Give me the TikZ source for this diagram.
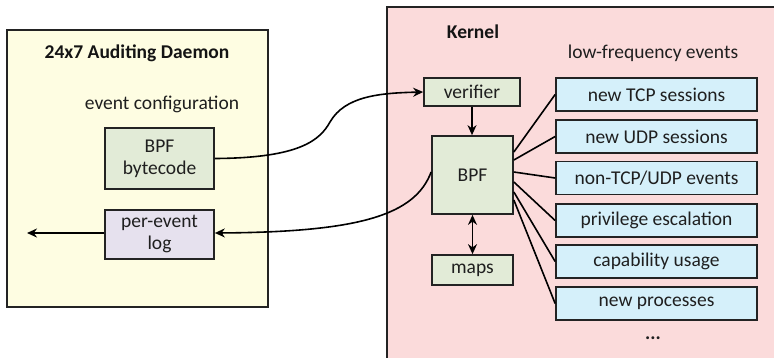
\documentclass[tikz,border=0pt]{standalone}
\usepackage{fontspec}
\setmainfont{Carlito}
\usetikzlibrary{arrows.meta}
\definecolor{daemonfill}{RGB}{254,253,226}
\definecolor{kernelfill}{RGB}{251,219,219}
\definecolor{greenfill}{RGB}{226,235,215}
\definecolor{logfill}{RGB}{230,225,238}
\definecolor{eventfill}{RGB}{213,240,250}
\definecolor{edge}{RGB}{35,35,35}
\tikzset{
  box/.style={draw=edge, line width=1.7pt, inner sep=0pt, align=center,
    font=\fontsize{19.5}{22}\selectfont, text=black!88},
  gbox/.style={box, fill=greenfill},
  ebox/.style={box, fill=eventfill, minimum width=201pt, minimum height=33pt},
  lbl/.style={font=\fontsize{19.5}{22}\selectfont, text=black!88},
  ttl/.style={font=\fontsize{19.5}{22}\selectfont\bfseries, text=black!92},
  conn/.style={draw=black, line width=1.6pt},
  tip/.tip={Stealth[length=10pt,width=9pt]},
  arr/.style={conn, -tip},
}
\begin{document}
\begin{tikzpicture}[x=1pt, y=-1pt]
\useasboundingbox (0,0) rectangle (774,357);
\clip (0,0) rectangle (774,357);
% containers
\draw[draw=edge, line width=1.7pt, fill=daemonfill] (7,30) rectangle (268,307);
\draw[draw=edge, line width=1.7pt, fill=kernelfill] (387,7) rectangle (800,380);
\node[ttl] (dtitle) at (137,53) {24x7 Auditing Daemon};
\node[lbl] (evcfg) at (162,104) {event configuration};
\node[ttl] (ktitle) at (473,32) {Kernel};
\node[lbl] (lowfreq) at (653,53) {low-frequency events};
% daemon side
\node[gbox, minimum width=109pt, minimum height=61pt] (bytecode) at (159.5,158.5) {BPF\\bytecode};
\node[box, fill=logfill, minimum width=109pt, minimum height=49pt] (log) at (159.5,234.5) {per-event\\log};
\coordinate (out) at (27,233);
% kernel side
\node[gbox, minimum width=96pt, minimum height=28pt] (verifier) at (472,92) {verifier};
\node[gbox, minimum width=81pt, minimum height=78pt] (bpf) at (472.5,175) {BPF};
\node[gbox, minimum width=81pt, minimum height=30pt] (maps) at (472.5,270) {maps};
\node[ebox] (e1) at (656.5,94.5) {new TCP sessions};
\node[ebox] (e2) at (656.5,136.5) {new UDP sessions};
\node[ebox] (e3) at (656.5,178) {non-TCP/UDP events};
\node[ebox] (e4) at (656.5,220.5) {privilege escalation};
\node[ebox] (e5) at (656.5,261.5) {capability usage};
\node[ebox] (e6) at (656.5,303.5) {new processes};
\node[lbl, font=\fontsize{19.5}{22}\selectfont\bfseries] (more) at (653,338) {...};
% connectors
\draw[arr] (bytecode.east) .. controls (300,158) and (320,140) .. (330,122)
  .. controls (345,96) and (380,93) .. (verifier.west);
\draw[arr] (bpf.west |- 0,172) .. controls (415,215) and (360,232) .. (log.east |- 0,233);
\draw[arr] (log.west |- out) -- (out);
\draw[arr] (verifier.south) -- (verifier.south |- bpf.north);
\draw[conn, tip-tip] (bpf.south) -- (maps.north);
\draw[conn] (bpf.east |- 0,152) -- (e1.west);
\draw[conn] (bpf.east |- 0,160) -- (e2.west);
\draw[conn] (bpf.east |- 0,172) -- (e3.west);
\draw[conn] (bpf.east |- 0,182) -- (e4.west);
\draw[conn] (bpf.east |- 0,192) -- (e5.west);
\draw[conn] (bpf.east |- 0,200) -- (e6.west);
\end{tikzpicture}
\end{document}
